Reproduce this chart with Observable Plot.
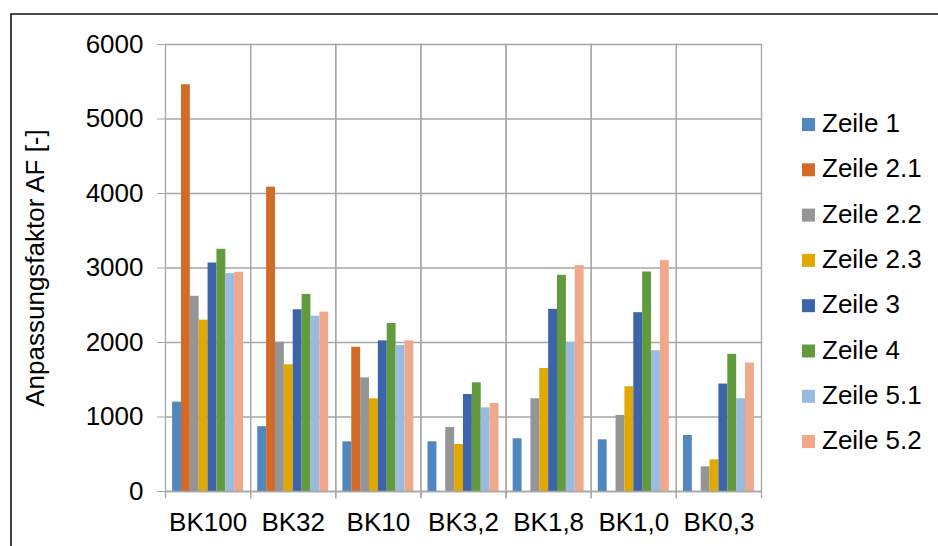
<!DOCTYPE html>
<html>
<head>
<meta charset="utf-8">
<script src="https://cdn.jsdelivr.net/npm/d3@7"></script>
<script src="https://cdn.jsdelivr.net/npm/@observablehq/plot@0.6"></script>
<style>
  html, body { margin: 0; padding: 0; background: #fff; }
  #chart svg { display: block; }
</style>
</head>
<body>
<div id="chart"></div>
<script>
const categories = ["BK100", "BK32", "BK10", "BK3,2", "BK1,8", "BK1,0", "BK0,3"];
const series = ["Zeile 1", "Zeile 2.1", "Zeile 2.2", "Zeile 2.3", "Zeile 3", "Zeile 4", "Zeile 5.1", "Zeile 5.2"];
const zeile1  = [1200,  870,  667,  667,  708,  694,  752];
const zeile21 = [5460, 4085, 1937, null, null, null, null];
const zeile22 = [2620, 2004, 1526,  859, 1245, 1021,  331];
const zeile23 = [2300, 1700, 1244,  631, 1652, 1406,  425];
const zeile3  = [3067, 2439, 2022, 1302, 2445, 2400, 1442];
const zeile4  = [3251, 2646, 2255, 1459, 2902, 2947, 1841];
const zeile51 = [2924, 2354, 1960, 1123, 2002, 1890, 1245];
const zeile52 = [2942, 2408, 2022, 1181, 3032, 3099, 1724];
const seriesColors = ["#4f87be", "#d36b28", "#959595", "#e1a800", "#3c64ab", "#629a3e", "#99bbe0", "#f0a88a"];
const yTicks = [0, 1000, 2000, 3000, 4000, 5000, 6000];
const yLabel = "Anpassungsfaktor AF [-]";

const valuesBySeries = [zeile1, zeile21, zeile22, zeile23, zeile3, zeile4, zeile51, zeile52];
const data = [];
categories.forEach((cat, i) => {
  series.forEach((s, j) => {
    const v = valuesBySeries[j][i];
    if (v != null) data.push({cat, series: s, value: v});
  });
});

const grid = "#a6a6a6";
const font = "'Liberation Sans', Arial, sans-serif";

const svg = Plot.plot({
  width: 938,
  height: 546,
  marginLeft: 165,
  marginRight: 177,
  marginTop: 44,
  marginBottom: 55,
  style: {fontFamily: font, fontSize: "26px", background: "#fff", overflow: "visible", color: "#000"},
  fx: {domain: categories, padding: 0, round: false, label: null},
  x: {domain: series, padding: 0, paddingInner: 0, paddingOuter: 0.8, round: false, axis: null},
  y: {domain: [0, 6000]},
  color: {domain: series, range: seriesColors},
  marks: [
    Plot.gridY(yTicks, {stroke: grid, strokeOpacity: 1, strokeWidth: 1.3}),
    Plot.frame({anchor: "left", stroke: grid, strokeWidth: 1.3, insetBottom: -6}),
    Plot.frame({anchor: "right", stroke: grid, strokeWidth: 1.3, insetBottom: -6}),
    Plot.barY(data, {fx: "cat", x: "series", y: "value", fill: "series", insetLeft: 0, insetRight: 0}),
    Plot.ruleY([0], {stroke: grid, strokeWidth: 1.3}),
    Plot.axisY(yTicks, {tickSize: 8, tickPadding: 14, stroke: grid, strokeOpacity: 1, fill: "#000", fontSize: 26,
      tickFormat: (d) => String(d),
      label: yLabel, labelAnchor: "center", labelArrow: "none", labelOffset: 140}),
    Plot.axisFx({anchor: "bottom", tickSize: 0, tickPadding: 21, fill: "#000", fontSize: 26, label: null})
  ]
});

const color = svg.scale("color");
const root = d3.select(svg);

// outer chart border
root.append("path")
  .attr("d", "M11,548V14H940")
  .attr("fill", "none")
  .attr("stroke", "#111")
  .attr("stroke-width", 1.6);

// legend
const lg = root.append("g")
  .attr("font-family", font)
  .attr("font-size", 26)
  .attr("text-anchor", "start");
series.forEach((s, i) => {
  const y0 = 118 + i * 45.3;
  lg.append("rect").attr("x", 802).attr("y", y0).attr("width", 13).attr("height", 13).attr("fill", color.apply(s));
  lg.append("text").attr("x", 822).attr("y", y0 + 14).attr("fill", "#000").text(s);
});

document.getElementById("chart").appendChild(svg);
</script>
</body>
</html>
